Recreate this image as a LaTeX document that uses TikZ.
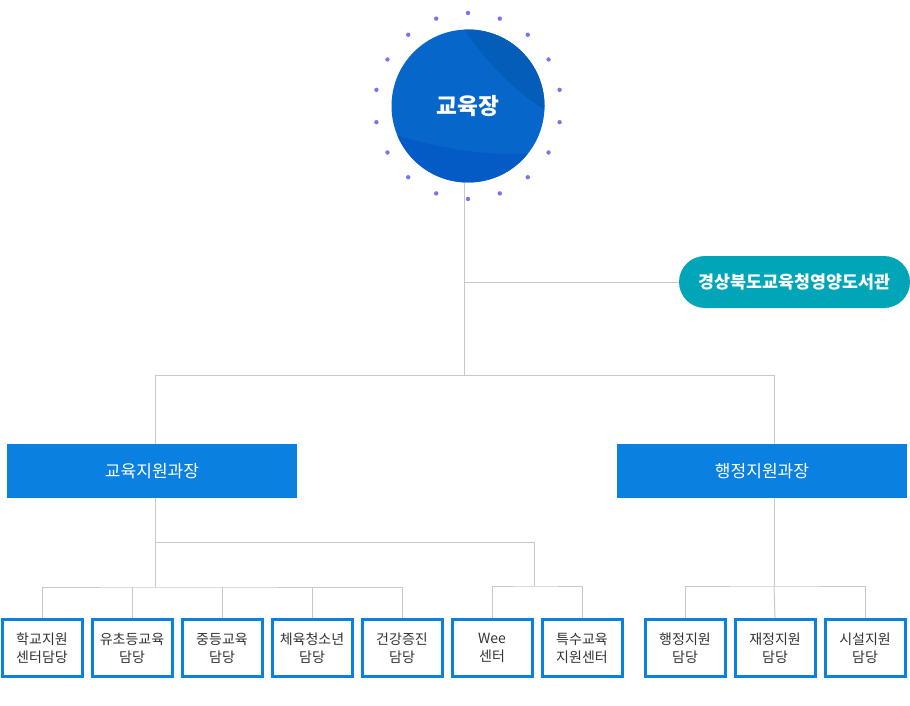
\documentclass[tikz,border=0pt]{standalone}
\usepackage{fontspec}
\setmainfont{Noto Sans CJK KR}
\usetikzlibrary{positioning}
\definecolor{lineg}{HTML}{C8C8C8}
\definecolor{deptblue}{HTML}{0A80E0}
\definecolor{libteal}{HTML}{00A5B8}
\definecolor{chiefA}{HTML}{0766CA}
\definecolor{chiefB}{HTML}{035DB9}
\definecolor{chiefC}{HTML}{045BC6}
\definecolor{chiefD}{HTML}{0351B8}
\definecolor{dotc}{HTML}{7B74F0}
\definecolor{txt}{HTML}{333333}
\tikzset{link/.style = {draw = lineg, line width = 0.75pt}}
\tikzset{dept/.style = {fill = deptblue, text = white, minimum width = 217.5pt,
                        minimum height = 40.5pt, inner sep = 0, font = \fontsize{12.8pt}{14pt}\selectfont}}
\tikzset{team/.style = {draw = deptblue, line width = 2.25pt, fill = white, text = txt,
                        minimum width = 60pt, minimum height = 42.75pt, inner sep = 0,
                        align = center, font = \fontsize{10.5pt}{13.5pt}\selectfont}}
\tikzset{lib/.style = {fill = libteal, text = white, rounded corners = 19.5pt,
                       minimum width = 173.25pt, minimum height = 39pt, inner sep = 0,
                       font = \bfseries\fontsize{13pt}{14pt}\selectfont}}

\begin{document}
\begin{tikzpicture}[x = 0.75pt, y = -0.75pt]
      \useasboundingbox (0, 0) rectangle (910, 706);
      % chief circle
      \begin{scope}
        \clip (468, 106) circle [radius = 76.5];
        \fill [chiefA] (380, 20) rectangle (560, 190);
        \fill [chiefB] (458, 20) .. controls (490, 70) and (520, 95) .. (560, 120) -- (560, 20) -- cycle;
        \fill [chiefC] (380, 130) .. controls (440, 150) and (500, 160) .. (560, 150) -- (560, 190) -- (380, 190) -- cycle;
        \fill [chiefD] (380, 150) .. controls (410, 165) and (440, 180) .. (460, 190) -- (380, 190) -- cycle;
      \end{scope}
      \node [circle, minimum size = 114.75pt, text = white,
             font = \bfseries\fontsize{17pt}{19pt}\selectfont] (chief) at (468, 106) {교육장};
      \foreach \a in {0, 20, ..., 340}
        \fill [dotc] (468, 106) ++(\a + 90:-93) circle [radius = 2.2];

      % library
      \node [lib] (library) at (794.5, 282) {경상북도교육청영양도서관};

      % departments
      \node [dept] (edu) at (152, 471) {교육지원과장};
      \node [dept] (admin) at (762, 471) {행정지원과장};

      % teams
      \node [team] (t1) at (42, 648) {학교지원\\센터담당};
      \node [team] (t2) at (132, 648) {유초등교육\\담당};
      \node [team] (t3) at (222, 648) {중등교육\\담당};
      \node [team] (t4) at (312, 648) {체육청소년\\담당};
      \node [team] (t5) at (402, 648) {건강증진\\담당};
      \node [team] (t6) at (492, 648) {Wee\\센터};
      \node [team] (t7) at (582, 648) {특수교육\\지원센터};
      \node [team] (t8) at (685, 648) {행정지원\\담당};
      \node [team] (t9) at (775, 648) {재정지원\\담당};
      \node [team] (t10) at (865, 648) {시설지원\\담당};

      % junctions
      \coordinate (jlib) at (464, 282);
      \coordinate (jtop) at (464, 375);
      \coordinate (jedu) at (155, 542);
      \coordinate (jleft) at (155, 587);
      \coordinate (jmid) at (534, 586);
      \coordinate (jadmin) at (774, 586);

      \draw [link] (chief.south -| jtop) -- (jtop);
      \draw [link] (jlib) -- (library.west);
      \draw [link] (jtop) -| ([xshift = 3*0.75pt]edu.north);
      \draw [link] (jtop) -| ([xshift = 12*0.75pt]admin.north);
      \draw [link] ([xshift = 3*0.75pt]edu.south) -- (jleft);
      \draw [link] (jedu) -| (jmid);
      \draw [link] (t1.north) |- (jleft) -| (t5.north);
      \foreach \t in {t2, t3, t4}
        \draw [link] (\t.north) -- (\t.north |- jleft);
      \draw [link] (t6.north) |- (jmid) -| (t7.north);
      \draw [link] ([xshift = 12*0.75pt]admin.south) -- (jadmin);
      \draw [link] (t8.north) |- (jadmin) -| (t10.north);
      \draw [link] (t9.north) -- (jadmin);
    \end{tikzpicture}
\end{document}
